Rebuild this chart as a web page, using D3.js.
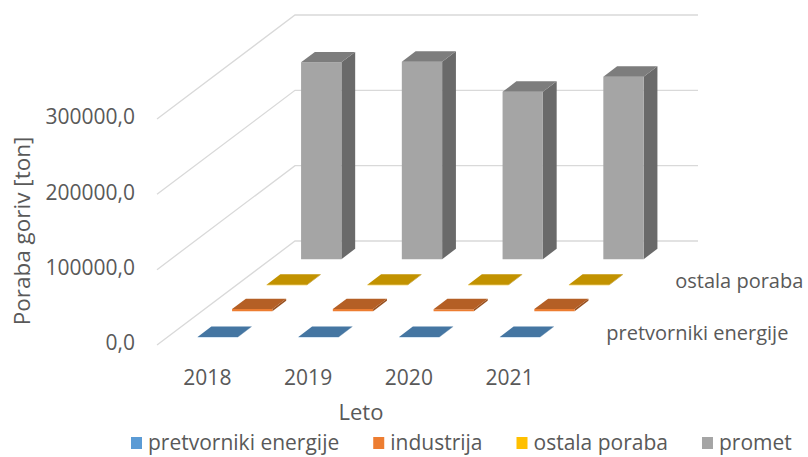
<!DOCTYPE html>
<html>
<head>
<meta charset="utf-8">
<script src="https://cdn.jsdelivr.net/npm/d3@7"></script>
<style>
  body { margin: 0; background: #fff; }
  svg { display: block; font-family: 'Open Sans', sans-serif; }
</style>
</head>
<body>
<div class="vis-container"></div>
<script>
// Data
const years = ['2018', '2019', '2020', '2021'];
const seriesNames = ['pretvorniki energije', 'industrija', 'ostala poraba', 'promet'];
const pretvorniki = [300, 300, 300, 300];
const industrija = [2800, 2800, 2700, 2800];
const ostala = [600, 600, 600, 600];
const promet = [261400, 262200, 222300, 242300];
const yTicks = [0, 100000, 200000, 300000];
const colors = ['#5B9BD5', '#ED7D31', '#FFC000', '#A5A5A5'];
const seriesValues = [pretvorniki, industrija, ostala, promet];

const width = 808;
const height = 457;

const svg = d3
  .select('.vis-container')
  .append('svg')
  .attr('width', width)
  .attr('height', height);

// oblique 3d layout: front-left-bottom corner, floor width, depth vector
const origin = { x: 157, y: 345 };
const floorWidth = 403;
const depth = { x: 138, y: -104 };

const xScale = d3.scaleBand().domain(years).range([0, floorWidth]).paddingInner(0.6).paddingOuter(0.3);
const zScale = d3.scaleBand().domain(seriesNames).range([0, 1]).paddingInner(0.6).paddingOuter(0.3);
const yScale = d3.scaleLinear().domain([0, 300000]).range([0, 226]);

// project (x along floor, value, z depth 0..1) to screen
const project = (x, v, z) => [origin.x + x + z * depth.x, origin.y - yScale(v) + z * depth.y];
const poly = (pts) => pts.map((p) => p.join(',')).join(' ');

const grid = svg.append('g').attr('class', 'grid');
yTicks.forEach((t) => {
  const a = project(0, t, 0);
  const b = project(0, t, 1);
  const c = project(floorWidth, t, 1);
  grid
    .append('polyline')
    .attr('points', poly([a, b, c]))
    .attr('fill', 'none')
    .attr('stroke', '#d9d9d9')
    .attr('stroke-width', 1.3);
});

// y tick labels
const fmt = (d) => d3.format('.1f')(d).replace('.', ',');
svg
  .append('g')
  .selectAll('text')
  .data(yTicks)
  .join('text')
  .attr('x', 135)
  .attr('y', (d) => project(0, d, 0)[1] - 2)
  .attr('dy', '0.35em')
  .attr('text-anchor', 'end')
  .attr('font-size', 21)
  .attr('fill', '#595959')
  .text(fmt);

// bars, drawn back to front
function shade(c, k) {
  const col = d3.rgb(c);
  return d3.rgb(col.r * k, col.g * k, col.b * k).formatHex();
}

const bars = svg.append('g').attr('class', 'bars');
seriesNames
  .map((name, i) => ({ name, i }))
  .reverse()
  .forEach(({ name, i }) => {
    const z0 = zScale(name);
    const z1 = z0 + zScale.bandwidth();
    years.forEach((yr, j) => {
      const v = seriesValues[i][j];
      const x0 = xScale(yr);
      const x1 = x0 + xScale.bandwidth();
      const g = bars.append('g');
      // side
      g.append('polygon')
        .attr('points', poly([project(x1, 0, z0), project(x1, v, z0), project(x1, v, z1), project(x1, 0, z1)]))
        .attr('fill', shade(colors[i], 0.64));
      // front
      g.append('polygon')
        .attr('points', poly([project(x0, 0, z0), project(x1, 0, z0), project(x1, v, z0), project(x0, v, z0)]))
        .attr('fill', colors[i]);
      // top
      g.append('polygon')
        .attr('points', poly([project(x0, v, z0), project(x1, v, z0), project(x1, v, z1), project(x0, v, z1)]))
        .attr('fill', shade(colors[i], 0.76));
    });
  });

// category labels
svg
  .append('g')
  .selectAll('text')
  .data(years)
  .join('text')
  .attr('x', (d) => origin.x + xScale(d) + xScale.bandwidth() / 2)
  .attr('y', 378)
  .attr('dy', '0.35em')
  .attr('text-anchor', 'middle')
  .attr('font-size', 21)
  .attr('fill', '#595959')
  .text((d) => d);

// series (depth) labels, every other one like Excel
svg
  .append('g')
  .selectAll('text')
  .data(seriesNames.filter((d, i) => i % 2 === 0))
  .join('text')
  .attr('x', (d) => project(floorWidth, 0, zScale(d) + zScale.bandwidth() / 2)[0] + 29)
  .attr('y', (d) => project(floorWidth, 0, zScale(d) + zScale.bandwidth() / 2)[1] + 1)
  .attr('dy', '0.35em')
  .attr('font-size', 20)
  .attr('fill', '#595959')
  .text((d) => d);

// axis titles
svg
  .append('text')
  .attr('transform', 'translate(22,231) rotate(-90)')
  .attr('dy', '0.35em')
  .attr('text-anchor', 'middle')
  .attr('font-size', 22.5)
  .attr('fill', '#595959')
  .text('Poraba goriv [ton]');

svg
  .append('text')
  .attr('x', 361)
  .attr('y', 412)
  .attr('dy', '0.35em')
  .attr('text-anchor', 'middle')
  .attr('font-size', 22)
  .attr('fill', '#595959')
  .text('Leto');

// legend
const legend = svg.append('g').attr('class', 'legend');
let lx = 131;
seriesNames.forEach((name, i) => {
  legend
    .append('rect')
    .attr('x', lx)
    .attr('y', 437)
    .attr('width', 11)
    .attr('height', 12)
    .attr('fill', colors[i]);
  const t = legend
    .append('text')
    .attr('x', lx + 17)
    .attr('y', 443)
    .attr('dy', '0.35em')
    .attr('font-size', 21)
    .attr('fill', '#595959')
    .text(name);
  lx += 17 + t.node().getComputedTextLength() + 34;
});
</script>
</body>
</html>
